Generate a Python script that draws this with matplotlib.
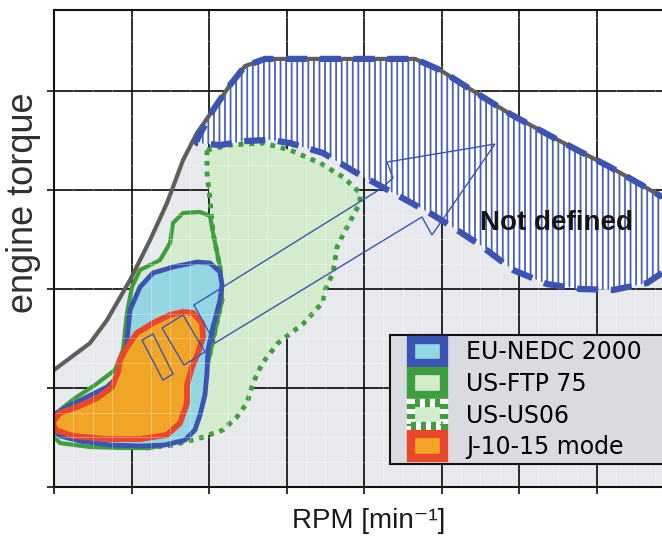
import matplotlib
matplotlib.use("Agg")
import matplotlib.pyplot as plt
import numpy as np
from matplotlib.patches import Polygon, Patch
from matplotlib.legend_handler import HandlerPatch, HandlerTuple

# ---- data (rpm, Nm) ----------------------------------------------------
# full-load torque curve
FULL_LOAD_RPM = [0, 465, 684, 981, 1239, 1458, 1665, 1845, 2052, 2271, 2465,
                 2723, 4658, 4981, 5368, 5884, 6529, 7174, 7626, 7845]
FULL_LOAD_NM = [59.1, 72.7, 84.3, 104.5, 124.7, 143.4, 165.1, 178.8, 190.4,
                203.0, 212.6, 216.2, 216.2, 210.6, 201.0, 188.4, 174.7,
                161.6, 151.5, 146.5]

# area not covered by any test cycle
NOT_DEF_TOP_RPM = [1845, 2052, 2271, 2465, 2723, 4658, 4981, 5368, 5884,
                   6529, 7174, 7626, 7845]
NOT_DEF_TOP_NM = [175.3, 190.4, 203.0, 212.6, 216.2, 216.2, 210.6, 201.0,
                  188.4, 174.7, 161.6, 151.5, 146.5]
NOT_DEF_BOT_RPM = [1845, 2142, 2465, 2787, 3045, 3471, 3948, 4426, 4890,
                   5200, 5497, 5923, 6361, 6787, 7213, 7652, 7845]
NOT_DEF_BOT_NM = [173.7, 172.7, 174.7, 175.3, 173.7, 168.7, 157.6, 147.5,
                  137.4, 129.8, 122.2, 109.6, 102.5, 100.0, 99.5, 103.0, 108.1]

# operating areas of the test cycles
US06_RPM = [1974, 2271, 2697, 3045, 3432, 3729, 3948, 3948, 3781, 3652, 3600,
            3497, 3471, 3226, 2890, 2684, 2568, 2490, 2361, 2181, 1884, 1535,
            1200, 1110, 1497, 1819, 1884, 1974, 2052, 2168, 2142, 2052, 2013,
            1974]
US06_NM = [170.2, 172.7, 173.7, 170.2, 163.6, 156.6, 148.5, 143.4, 131.3,
           121.2, 108.1, 99.5, 93.4, 82.8, 72.7, 62.1, 52.5, 42.4, 35.4, 28.8,
           24.7, 21.2, 19.7, 20.2, 33.8, 49.0, 53.0, 60.6, 74.2, 94.4, 111.1,
           128.3, 144.9, 158.6]

FTP_RPM = [-13, 77, 271, 529, 787, 890, 942, 1006, 1110, 1368, 1497, 1535,
           1665, 1884, 2013, 2052, 2142, 2168, 2052, 1974, 1884, 1819, 1690,
           1239, 890, 465, 77, -26]
FTP_NM = [31.3, 38.9, 44.9, 51.5, 59.1, 69.2, 87.9, 101.0, 109.6, 114.6,
          123.2, 133.3, 138.4, 138.9, 136.9, 128.3, 111.1, 94.4, 74.2, 60.6,
          53.0, 38.9, 23.7, 19.7, 19.7, 20.2, 22.2, 26.3]

NEDC_RPM = [-13, 168, 426, 684, 813, 916, 942, 981, 1110, 1277, 1535, 1845,
            2013, 2142, 2168, 2142, 2052, 1987, 1974, 1948, 1884, 1819, 1690,
            1432, 1110, 723, 335, 77, -26]
NEDC_NM = [36.4, 40.4, 45.5, 50.5, 55.1, 64.1, 74.2, 89.4, 101.0, 108.1,
           111.1, 113.6, 113.1, 108.6, 102.0, 94.4, 80.8, 69.2, 57.6, 46.5,
           36.4, 28.8, 23.7, 21.2, 20.7, 21.2, 23.2, 25.8, 29.8]

J1015_RPM = [13, -13, 77, 297, 555, 748, 826, 852, 942, 1071, 1277, 1497,
             1665, 1794, 1910, 1923, 1858, 1781, 1716, 1716, 1626, 1458, 1110,
             684, 245]
J1015_NM = [28.8, 32.8, 37.4, 40.4, 44.9, 50.5, 58.1, 64.1, 70.7, 77.8, 82.8,
            86.9, 88.4, 87.9, 82.8, 75.8, 67.7, 60.6, 51.5, 42.4, 32.3, 26.3,
            24.2, 24.2, 25.8]

# outline arrow pointing into the undefined area, with two tail segments
ARROW_RPM = [1806, 4232, 4374, 4297, 5690, 4877, 4748, 2077]
ARROW_NM = [91.9, 151.0, 156.1, 164.1, 173.2, 127.3, 136.4, 72.7]
TAIL1_RPM = [1135, 1277, 1535, 1406]
TAIL1_NM = [74.2, 77.3, 57.1, 54.0]
TAIL2_RPM = [1394, 1665, 1948, 1677]
TAIL2_NM = [80.3, 86.9, 68.2, 61.6]

CYCLE_LABELS = ["EU-NEDC 2000", "US-FTP 75", "US-US06", "J-10-15 mode"]

# ---- styling -----------------------------------------------------------
C_GRAY_AREA = "#e8e9ed"
C_FULL_LOAD = "#5e5e5e"
C_BLUE = "#3b54b3"
C_HATCH = "#4d60b8"
C_NEDC_FILL = "#93d6e2"
C_GREEN_FILL = "#d4ebce"
C_GREEN_EDGE = "#3e9e3e"
C_J_FILL = "#f0a526"
C_J_EDGE = "#e8472b"

plt.rcParams["hatch.linewidth"] = 1.3
plt.rcParams["hatch.color"] = C_HATCH

fig = plt.figure(figsize=(6.62, 5.38), dpi=100)
ax = fig.add_axes([54 / 662, 51 / 538, 608 / 662, 477.4 / 538])
ax.set_xlim(0, 7845)
ax.set_ylim(0, 241.1)

# region below the full-load curve
ax.fill_between(FULL_LOAD_RPM, 0, FULL_LOAD_NM, color=C_GRAY_AREA, lw=0,
                zorder=0.1)

# major grid
ax.set_xticks(np.arange(0, 7845, 1000))
ax.set_yticks(np.arange(0, 241, 50))
ax.set_axisbelow(True)
ax.grid(True, color="#111111", lw=1.25)
ax.tick_params(direction="out", length=5, width=1.2, labelleft=False,
               labelbottom=False, color="#111111")
ax.spines["right"].set_visible(False)
for s in ("left", "bottom", "top"):
    ax.spines[s].set_linewidth(1.5)
    ax.spines[s].set_color("#111111")

# cycle areas
ax.add_patch(Polygon(np.column_stack([US06_RPM, US06_NM]), closed=True,
                     facecolor=C_GREEN_FILL, edgecolor="none", zorder=1.0))
ax.add_patch(Polygon(np.column_stack([FTP_RPM, FTP_NM]), closed=True,
                     facecolor=C_GREEN_FILL, edgecolor=C_GREEN_EDGE, lw=3,
                     joinstyle="round", zorder=1.1))
ax.add_patch(Polygon(np.column_stack([US06_RPM, US06_NM]), closed=True,
                     fill=False, edgecolor=C_GREEN_EDGE, lw=3.5,
                     linestyle=(0, (1, 1.2)), zorder=1.2))
ax.add_patch(Polygon(np.column_stack([NEDC_RPM, NEDC_NM]), closed=True,
                     facecolor=C_NEDC_FILL, edgecolor=C_BLUE, lw=3.5,
                     joinstyle="round", zorder=1.3))
ax.add_patch(Polygon(np.column_stack([J1015_RPM, J1015_NM]), closed=True,
                     facecolor=C_J_FILL, edgecolor=C_J_EDGE, lw=4.2,
                     joinstyle="round", zorder=1.4))

# fine grid
minor_x = [v for v in np.arange(250, 7845, 250) if v % 1000]
minor_y = [v for v in np.arange(12.5, 241, 12.5) if v % 50]
ax.vlines(minor_x, 0, 1, transform=ax.get_xaxis_transform(), colors="white",
          lw=0.7, alpha=0.3, zorder=1.9)
ax.hlines(minor_y, 0, 1, transform=ax.get_yaxis_transform(), colors="white",
          lw=0.7, alpha=0.3, zorder=1.9)

# undefined area: hatched, with dashed border
nd_poly = np.column_stack([NOT_DEF_TOP_RPM + NOT_DEF_BOT_RPM[::-1],
                           NOT_DEF_TOP_NM + NOT_DEF_BOT_NM[::-1]])
ax.add_patch(Polygon(nd_poly, closed=True, facecolor="white",
                     edgecolor=C_HATCH, lw=0, hatch="|||", zorder=2.0))
ax.plot(FULL_LOAD_RPM, FULL_LOAD_NM, color=C_FULL_LOAD, lw=3, zorder=2.1,
        solid_joinstyle="round")
ax.plot(NOT_DEF_BOT_RPM[::-1] + NOT_DEF_TOP_RPM,
        NOT_DEF_BOT_NM[::-1] + NOT_DEF_TOP_NM,
        color=C_BLUE, lw=4.5, linestyle=(0, (3.4, 2.0)), zorder=2.2)

# arrow
for rx, ry in ((ARROW_RPM, ARROW_NM), (TAIL1_RPM, TAIL1_NM),
               (TAIL2_RPM, TAIL2_NM)):
    ax.add_patch(Polygon(np.column_stack([rx, ry]), closed=True, fill=False,
                         edgecolor=C_BLUE, lw=1.0, zorder=2.5))

ax.text(6490, 129.8, "Not defined", ha="center", va="baseline", fontsize=20,
        fontweight="bold", family="Liberation Sans", color="#151515",
        zorder=3)

# axis labels
ax.set_ylabel("engine torque", fontsize=26, family="Liberation Sans",
              color="#303030")
ax.yaxis.set_label_coords(-0.022, 0.595)
ax.set_xlabel("RPM [min\u207b\u00b9]", fontsize=20,
              family=["Liberation Sans", "DejaVu Sans"], color="#1a1a1a")
ax.xaxis.set_label_coords(0.518, -0.045)

# legend
handles = [
    Patch(facecolor=C_NEDC_FILL, edgecolor=C_BLUE, linewidth=6),
    Patch(facecolor=C_GREEN_FILL, edgecolor=C_GREEN_EDGE, linewidth=6),
    (Patch(facecolor=C_GREEN_FILL, edgecolor="white", linewidth=6),
     Patch(facecolor="none", edgecolor=C_GREEN_EDGE, linewidth=6,
           linestyle=(0, (0.6, 0.6)))),
    Patch(facecolor=C_J_FILL, edgecolor=C_J_EDGE, linewidth=6),
]
leg = ax.legend(handles, CYCLE_LABELS, loc="upper left",
                bbox_to_anchor=(0.5526, 0.0, 0.7, 0.3184), mode="expand",
                borderaxespad=0, prop={"family": "DejaVu Sans", "size": 17},
                handlelength=2.09, handleheight=1.15, handletextpad=0.93,
                labelspacing=0.29, borderpad=0.2, fancybox=False,
                framealpha=1, facecolor="#dadbe0", edgecolor="#111111",
                handler_map={Patch: HandlerPatch(xpad=0.69),
                             tuple: HandlerTuple(ndivide=1, pad=0, xpad=0.69)})
leg.get_frame().set_linewidth(1.5)
leg.set_zorder(5)

fig.savefig("out.png", dpi=100)
